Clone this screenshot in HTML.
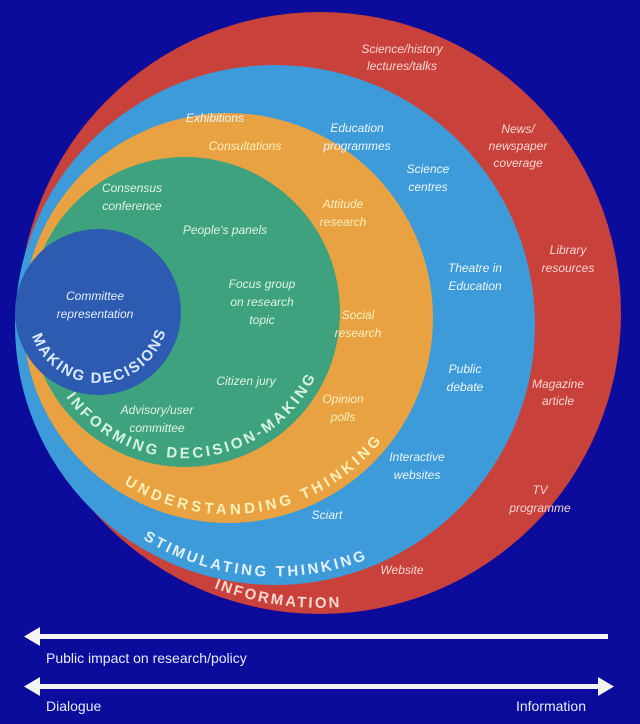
<!DOCTYPE html>
<html><head><meta charset="utf-8"><style>
html,body{margin:0;padding:0;background:#0b0b9c;}
svg{display:block;}
.l{font-family:"Liberation Sans",sans-serif;font-style:italic;font-size:12px;text-anchor:middle;}
.r{fill:#f6d6d0}.b{fill:#eef6ff}.o{fill:#fdf0c0}.g{fill:#e0f4e4}.i{fill:#e4ecff}
.c{font-family:"Liberation Sans",sans-serif;font-size:15px;font-weight:bold;}
</style></head><body>
<svg width="640" height="724" viewBox="0 0 640 724" xmlns="http://www.w3.org/2000/svg">
<rect width="640" height="724" fill="#0b0b9c"/>
<circle cx="320" cy="313" r="301" fill="#c9413b"/>
<circle cx="275" cy="325" r="260" fill="#3d9bd9"/>
<circle cx="228" cy="318" r="205" fill="#e9a241"/>
<circle cx="185" cy="312" r="155" fill="#3ea27f"/>
<circle cx="98" cy="312" r="83" fill="#2c5bb1"/>
<defs>
<path id="p1" d="M32,336 A70,70 0 0 0 166,330"/>
<path id="p2" d="M66,397 A146,146 0 0 0 317,374"/>
<path id="p3" d="M124,484 A196,196 0 0 0 383,439"/>
<path id="p4" d="M143,539 A252,252 0 0 0 365,560"/>
<path id="p5" d="M214,588 A296,296 0 0 0 341,607"/>
</defs>
<text class="c" fill="#dce8ff"><textPath href="#p1" textLength="177" lengthAdjust="spacing">MAKING DECISIONS</textPath></text>
<text class="c" fill="#d8f4e0"><textPath href="#p2" textLength="300" lengthAdjust="spacing">INFORMING DECISION-MAKING</textPath></text>
<text class="c" fill="#fdf0b8"><textPath href="#p3" textLength="285" lengthAdjust="spacing">UNDERSTANDING THINKING</textPath></text>
<text class="c" fill="#e4f2ff"><textPath href="#p4" textLength="232" lengthAdjust="spacing">STIMULATING THINKING</textPath></text>
<text class="c" fill="#f8d8d0"><textPath href="#p5" textLength="128" lengthAdjust="spacing">INFORMATION</textPath></text>

<text class="l r" x="402" y="53">Science/history</text>
<text class="l r" x="402" y="70">lectures/talks</text>
<text class="l r" x="518" y="133">News/</text>
<text class="l r" x="518" y="150">newspaper</text>
<text class="l r" x="518" y="167">coverage</text>
<text class="l r" x="568" y="254">Library</text>
<text class="l r" x="568" y="272">resources</text>
<text class="l r" x="558" y="388">Magazine</text>
<text class="l r" x="558" y="405">article</text>
<text class="l r" x="540" y="494">TV</text>
<text class="l r" x="540" y="512">programme</text>
<text class="l r" x="402" y="574">Website</text>

<text class="l b" x="215" y="122">Exhibitions</text>
<text class="l b" x="357" y="132">Education</text>
<text class="l b" x="357" y="150">programmes</text>
<text class="l b" x="428" y="173">Science</text>
<text class="l b" x="428" y="191">centres</text>
<text class="l b" x="475" y="272">Theatre in</text>
<text class="l b" x="475" y="290">Education</text>
<text class="l b" x="465" y="373">Public</text>
<text class="l b" x="465" y="391">debate</text>
<text class="l b" x="417" y="461">Interactive</text>
<text class="l b" x="417" y="479">websites</text>
<text class="l b" x="327" y="519">Sciart</text>

<text class="l o" x="245" y="150">Consultations</text>
<text class="l o" x="343" y="208">Attitude</text>
<text class="l o" x="343" y="226">research</text>
<text class="l o" x="358" y="319">Social</text>
<text class="l o" x="358" y="337">research</text>
<text class="l o" x="343" y="403">Opinion</text>
<text class="l o" x="343" y="421">polls</text>

<text class="l g" x="132" y="192">Consensus</text>
<text class="l g" x="132" y="210">conference</text>
<text class="l g" x="225" y="234">People's panels</text>
<text class="l g" x="262" y="288">Focus group</text>
<text class="l g" x="262" y="306">on research</text>
<text class="l g" x="262" y="324">topic</text>
<text class="l g" x="246" y="385">Citizen jury</text>
<text class="l g" x="157" y="414">Advisory/user</text>
<text class="l g" x="157" y="432">committee</text>

<text class="l i" x="95" y="300">Committee</text>
<text class="l i" x="95" y="318">representation</text>

<g fill="#f4f4f4" stroke="none">
<rect x="34" y="634" width="574" height="5"/>
<polygon points="24,636.5 40,627 40,646"/>
<rect x="34" y="684" width="566" height="5"/>
<polygon points="24,686.5 40,677 40,696"/>
<polygon points="614,686.5 598,677 598,696"/>
</g>
<text x="46" y="663" fill="#e6ecff" font-family="Liberation Sans,sans-serif" font-size="14">Public impact on research/policy</text>
<text x="46" y="711" fill="#e6ecff" font-family="Liberation Sans,sans-serif" font-size="14">Dialogue</text>
<text x="586" y="711" fill="#e6ecff" font-family="Liberation Sans,sans-serif" font-size="14" text-anchor="end">Information</text>
</svg>
</body></html>
